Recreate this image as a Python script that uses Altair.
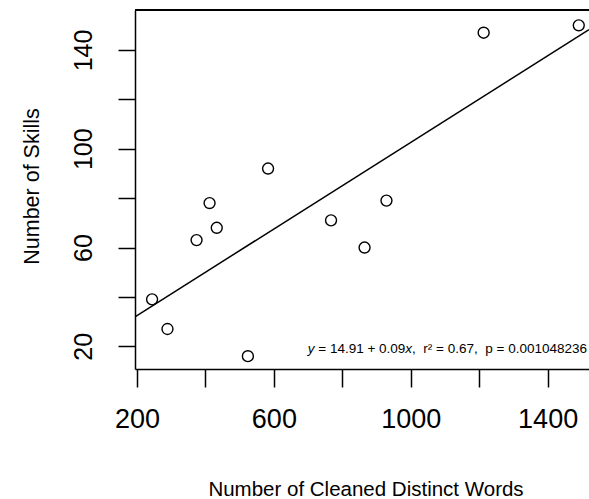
import altair as alt
import pandas as pd

# Observations: distinct cleaned words vs. number of skills
WORDS = [244, 289, 374, 412, 433, 524, 583, 767, 865, 929, 1213, 1491]
SKILLS = [39, 27, 63, 78, 68, 16, 92, 71, 60, 79, 147, 150]

# Linear fit and its summary statistics
INTERCEPT = 14.91
SLOPE = 0.0877
R_SQUARED = "0.67"
P_VALUE = "0.001048236"

# Axis ticks and the subset that carries labels
X_TICKS = [200, 400, 600, 800, 1000, 1200, 1400]
X_LABELED = [200, 600, 1000, 1400]
Y_TICKS = [20, 40, 60, 80, 100, 120, 140]
Y_LABELED = [20, 60, 100, 140]

X_DOMAIN = [194.1, 1520.9]
Y_DOMAIN = [10.8, 156.2]

FONT = "Liberation Sans"
INK = "#000000"

points = pd.DataFrame({"words": WORDS, "skills": SKILLS})
fit = pd.DataFrame({
    "words": X_DOMAIN,
    "skills": [INTERCEPT + SLOPE * v for v in X_DOMAIN],
})

x_scale = alt.Scale(domain=X_DOMAIN, nice=False, zero=False)
y_scale = alt.Scale(domain=Y_DOMAIN, nice=False, zero=False)


def label_expr(keep):
    test = " || ".join(f"datum.value == {v}" for v in keep)
    return f"({test}) ? datum.label : ''"


x_axis = alt.Axis(
    values=X_TICKS, labelExpr=label_expr(X_LABELED), format="d", grid=False,
    tickSize=18, tickWidth=1.5, tickColor=INK,
    domainColor=INK, domainWidth=1.5,
    labelFont=FONT, labelFontSize=27, labelColor=INK, labelAngle=0,
    labelAlign="center", labelBaseline="alphabetic", labelPadding=40,
    labelFlush=False, labelOverlap=False, labelBound=False,
    title="Number of Cleaned Distinct Words", titleFont=FONT,
    titleFontSize=20.5, titleFontWeight="normal", titleColor=INK,
    titleAlign="center", titleBaseline="alphabetic", titleX=230.5, titleY=126,
)

y_axis = alt.Axis(
    values=Y_TICKS, labelExpr=label_expr(Y_LABELED), format="d", grid=False,
    tickSize=17, tickWidth=1.5, tickColor=INK,
    domainColor=INK, domainWidth=1.5,
    labelFont=FONT, labelFontSize=25, labelColor=INK, labelAngle=270,
    labelAlign="center", labelBaseline="alphabetic", labelPadding=27,
    labelFlush=False, labelOverlap=False, labelBound=False,
    title="Number of Skills", titleFont=FONT, titleFontSize=21.5,
    titleFontWeight="normal", titleColor=INK, titleAngle=270,
    titleAlign="center", titleBaseline="alphabetic", titleX=-97, titleY=176,
)

scatter = alt.Chart(points).mark_point(
    shape="circle", filled=False, size=120, strokeWidth=1.4, color=INK, opacity=1
).encode(
    x=alt.X("words:Q", scale=x_scale, axis=x_axis),
    y=alt.Y("skills:Q", scale=y_scale, axis=y_axis),
)

trend = alt.Chart(fit).mark_line(color=INK, strokeWidth=1.5, clip=True).encode(
    x=alt.X("words:Q", scale=x_scale),
    y=alt.Y("skills:Q", scale=y_scale),
)

# Top edge of the plot frame
frame_top = alt.Chart(points).mark_rule(color=INK, strokeWidth=1.5).encode(
    y=alt.value(0)
)

# Regression annotation, bottom right; pieces are right-aligned one after another
ANNOT_X = 1515
ANNOT_Y = 17.3
ANNOT_SIZE = 13.5
NB = "\u00a0"
pieces = [
    ("y", True),
    (f"{NB}={NB}{INTERCEPT:.2f}{NB}+{NB}{SLOPE:.2f}", False),
    ("x", True),
    (f",{NB}{NB}r\u00b2{NB}={NB}{R_SQUARED},{NB}{NB}p{NB}={NB}{P_VALUE}", False),
]
ADV = {NB: 0.278, ",": 0.278, ".": 0.278, "=": 0.584, "+": 0.584,
       "r": 0.333, "p": 0.556, "x": 0.5, "y": 0.5, "\u00b2": 0.333}


def width(s):
    return sum(ADV.get(ch, 0.556) for ch in s) * ANNOT_SIZE


annot_layers = []
anchor = pd.DataFrame({"words": [ANNOT_X], "skills": [ANNOT_Y]})
for i, (txt, italic) in enumerate(pieces):
    shift = sum(width(t) for t, _ in pieces[i + 1:])
    annot_layers.append(
        alt.Chart(anchor).mark_text(
            text=txt, font=FONT, fontSize=ANNOT_SIZE, color=INK,
            fontStyle="italic" if italic else "normal",
            align="right", baseline="alphabetic", dx=-shift,
        ).encode(
            x=alt.X("words:Q", scale=x_scale),
            y=alt.Y("skills:Q", scale=y_scale),
        )
    )

chart = alt.layer(frame_top, trend, scatter, *annot_layers).properties(
    width=454,
    height=359,
    padding={"left": 135, "top": 10, "right": 0, "bottom": 130},
    autosize=alt.AutoSizeParams(type="none"),
    background="white",
).configure_view(stroke=None)

chart.save("out.html", embed_options={"renderer": "svg", "actions": False})
